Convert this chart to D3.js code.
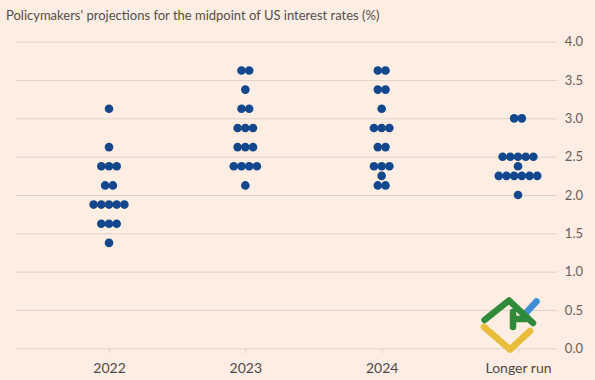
<!DOCTYPE html>
<html>
<head>
<meta charset="utf-8">
<script src="https://cdn.jsdelivr.net/npm/d3@7"></script>
<style>
  html, body { margin: 0; padding: 0; background: #fdede2; }
  svg { display: block; }
  text { font-family: Lato, "Open Sans", sans-serif; }
</style>
</head>
<body>
<div id="chart"></div>
<script>
// ---- Data ----
const title = "Policymakers' projections for the midpoint of US interest rates (%)";
const categories = ["2022", "2023", "2024", "Longer run"];
const yTicks = [0, 0.5, 1, 1.5, 2, 2.5, 3, 3.5, 4];

// [rate, number of participants]
const dots2022 = [[3.125, 1], [2.625, 1], [2.375, 3], [2.125, 2], [1.875, 5], [1.625, 3], [1.375, 1]];
const dots2023 = [[3.625, 2], [3.375, 1], [3.125, 2], [2.875, 3], [2.625, 3], [2.375, 4], [2.125, 1]];
const dots2024 = [[3.625, 2], [3.375, 2], [3.125, 1], [2.875, 3], [2.625, 2], [2.375, 3], [2.25, 1], [2.125, 2]];
const dotsLonger = [[3.0, 2], [2.5, 5], [2.375, 1], [2.25, 6], [2.0, 1]];
const columns = [dots2022, dots2023, dots2024, dotsLonger];

// ---- Layout ----
const W = 595, H = 380;
const svg = d3.select("#chart").append("svg").attr("width", W).attr("height", H);
svg.append("rect").attr("width", W).attr("height", H).attr("fill", "#fdede2");

const y = d3.scaleLinear().domain([0, 4]).range([348.3, 41.7]);
const x = d3.scalePoint().domain(categories).range([109, 518]);

svg.append("text").attr("x", 6).attr("y", 20)
  .attr("font-size", 13).attr("fill", "#544e4a").text(title);

// gridlines
const grid = svg.append("g").attr("transform", "translate(557,0)")
  .call(d3.axisLeft(y).tickValues(yTicks).tickSize(541).tickFormat(""));
grid.select(".domain").remove();
grid.selectAll("line").attr("stroke", "#e2d3c8").attr("stroke-width", 1);

// y labels
const yAx = svg.append("g").attr("transform", "translate(557,0)")
  .call(d3.axisRight(y).tickValues(yTicks).tickSize(0).tickFormat(d3.format(".1f")));
yAx.select(".domain").remove();
yAx.selectAll("text").attr("x", 26).attr("text-anchor", "end")
  .attr("font-size", 13).attr("fill", "#66605c").style("font-family", "Lato, sans-serif");

// x axis
const xAx = svg.append("g").attr("transform", `translate(0,${y(0)})`)
  .call(d3.axisBottom(x).tickSize(5).tickPadding(10));
xAx.select(".domain").remove();
xAx.selectAll("line").attr("stroke", "#e2d3c8");
xAx.selectAll("text").attr("font-size", 14).attr("fill", "#4f4a47").style("font-family", "Lato, sans-serif");

// dots
const step = 7.7, r = 4.3;
const pts = [];
columns.forEach((col, ci) => {
  col.forEach(([rate, n]) => {
    for (let i = 0; i < n; i++) {
      pts.push({ cat: categories[ci], rate, off: (i - (n - 1) / 2) * step });
    }
  });
});
svg.append("g").selectAll("circle").data(pts).join("circle")
  .attr("cx", d => x(d.cat) + d.off)
  .attr("cy", d => y(d.rate))
  .attr("r", r)
  .attr("fill", "#13478d");

// watermark logo
const logo = svg.append("g").attr("fill", "none").attr("stroke-linecap", "round").attr("stroke-linejoin", "round").attr("stroke-width", 6.5);
logo.append("path").attr("d", "M484,327 L510,349.5 L530,331").attr("stroke", "#e9bd3c");
logo.append("path").attr("d", "M523,316 L536.5,301.5").attr("stroke", "#3d8fd6");
logo.append("path").attr("d", "M484.5,320 L509,300.5 L533,323").attr("stroke", "#2f8a3a");
logo.append("path").attr("d", "M513,312 L513,327").attr("stroke", "#2f8a3a");
logo.append("path").attr("d", "M514,319 L528,319").attr("stroke", "#2f8a3a");
</script>
</body>
</html>
